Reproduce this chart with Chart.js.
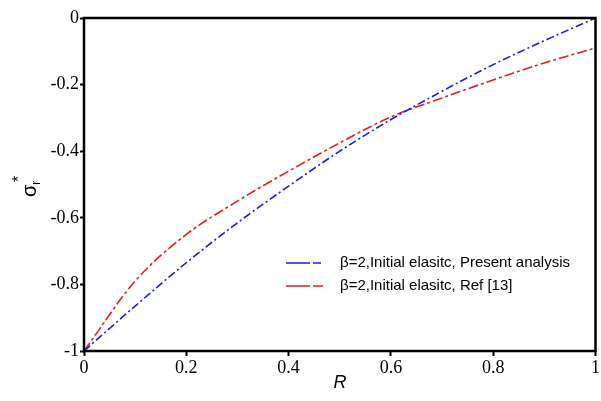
<!DOCTYPE html>
<html>
<head>
<meta charset="utf-8">
<script src="https://cdn.jsdelivr.net/npm/chart.js@4.4.1/dist/chart.umd.min.js"></script>
<style>
  html, body { margin: 0; padding: 0; background: #fff; }
  #wrap { width: 601px; height: 401px; }
</style>
</head>
<body>
<div id="wrap"><canvas id="stressChart" width="601" height="401"></canvas></div>
<script>
// R positions and stress values
var rValues = [0, 0.1, 0.2, 0.3, 0.4, 0.5, 0.6, 0.7, 0.8, 0.9, 1];
var presentAnalysis = [-1, -0.865, -0.735, -0.615, -0.505, -0.40, -0.305, -0.22, -0.14, -0.068, 0];
var ref13 = [-1, -0.79, -0.65, -0.55, -0.46, -0.375, -0.297, -0.24, -0.186, -0.135, -0.09];
var xTicks = [0, 0.2, 0.4, 0.6, 0.8, 1];
var yTicks = [0, -0.2, -0.4, -0.6, -0.8, -1];
var seriesLabels = ['\u03b2=2,Initial elasitc, Present analysis', '\u03b2=2,Initial elasitc, Ref [13]'];

function toPoints(ys) {
    return rValues.map(function (r, i) { return { x: r, y: ys[i] }; });
}
function fmt(v) {
    return parseFloat(v.toFixed(2)).toString();
}

// box frame, axis titles and in-plot legend
var decorations = {
    id: 'decorations',
    afterDraw: function (chart) {
        var ctx = chart.ctx, a = chart.chartArea;
        ctx.save();
        ctx.strokeStyle = '#000';
        ctx.lineWidth = 2.5;
        ctx.strokeRect(a.left, a.top, a.right - a.left, a.bottom - a.top);

        // x title
        ctx.fillStyle = '#000';
        ctx.font = 'italic 18px "Liberation Sans"';
        ctx.textAlign = 'center';
        ctx.textBaseline = 'middle';
        ctx.fillText('R', 340, 383);

        // y title sigma_r^*
        ctx.save();
        ctx.translate(31, 197);
        ctx.rotate(-Math.PI / 2);
        ctx.textAlign = 'left';
        ctx.textBaseline = 'alphabetic';
        ctx.font = '20px "Liberation Sans"';
        ctx.fillText('\u03c3', 0, 5);
        ctx.font = '13px "Liberation Sans"';
        ctx.fillText('r', 12, 9);
        ctx.font = '16px "Liberation Sans"';
        ctx.fillText('*', 15, -7);
        ctx.restore();

        // legend
        chart.data.datasets.forEach(function (ds, i) {
            var y = 263 + i * 23;
            ctx.strokeStyle = ds.borderColor;
            ctx.lineWidth = 1.5;
            ctx.setLineDash([]);
            ctx.beginPath();
            ctx.moveTo(286, y);
            ctx.lineTo(310, y);
            ctx.stroke();
            ctx.setLineDash(ds.borderDash);
            ctx.beginPath();
            ctx.moveTo(313, y);
            ctx.lineTo(324, y);
            ctx.stroke();
            ctx.setLineDash([]);
            ctx.fillStyle = '#000';
            ctx.font = '15px "Liberation Sans"';
            ctx.textAlign = 'left';
            ctx.textBaseline = 'middle';
            ctx.fillText(seriesLabels[i], 340, y);
        });
        ctx.restore();
    }
};

document.addEventListener("DOMContentLoaded", function () {
    var ctx = document.getElementById('stressChart').getContext('2d');
    var chart = new Chart(ctx, {
        type: 'line',
        data: {
            datasets: [
                {
                    label: seriesLabels[0],
                    data: toPoints(presentAnalysis),
                    borderColor: '#1a1adf',
                    borderWidth: 1.6,
                    borderDash: [8, 3, 2, 3],
                    pointRadius: 0,
                    cubicInterpolationMode: 'monotone',
                    fill: false
                },
                {
                    label: seriesLabels[1],
                    data: toPoints(ref13),
                    borderColor: '#e0201c',
                    borderWidth: 1.6,
                    borderDash: [10, 3, 3, 3],
                    pointRadius: 0,
                    cubicInterpolationMode: 'monotone',
                    fill: false
                }
            ]
        },
        options: {
            responsive: false,
            animation: false,
            layout: { padding: { top: 18, right: 4, left: 0, bottom: 0 } },
            plugins: {
                legend: { display: false },
                tooltip: { enabled: false }
            },
            scales: {
                x: {
                    type: 'linear',
                    min: 0,
                    max: 1,
                    afterBuildTicks: function (s) { s.ticks = xTicks.map(function (v) { return { value: v }; }); },
                    afterFit: function (s) { s.height = 50; },
                    grid: { drawOnChartArea: false, tickLength: 5, tickColor: '#000', tickWidth: 2 },
                    border: { display: false },
                    ticks: {
                        color: '#000',
                        padding: 1,
                        maxRotation: 0,
                        font: { family: '"Liberation Serif"', size: 18 },
                        callback: function (v) { return fmt(v); }
                    }
                },
                y: {
                    type: 'linear',
                    min: -1,
                    max: 0,
                    afterBuildTicks: function (s) { s.ticks = yTicks.map(function (v) { return { value: v }; }); },
                    afterFit: function (s) { s.width = 84; },
                    grid: { drawOnChartArea: false, tickLength: 4, tickColor: '#000', tickWidth: 2 },
                    border: { display: false },
                    ticks: {
                        color: '#000',
                        padding: 1,
                        font: { family: '"Liberation Serif"', size: 18 },
                        callback: function (v) { return fmt(v); }
                    }
                }
            }
        },
        plugins: [decorations]
    });
});
</script>
</body>
</html>
